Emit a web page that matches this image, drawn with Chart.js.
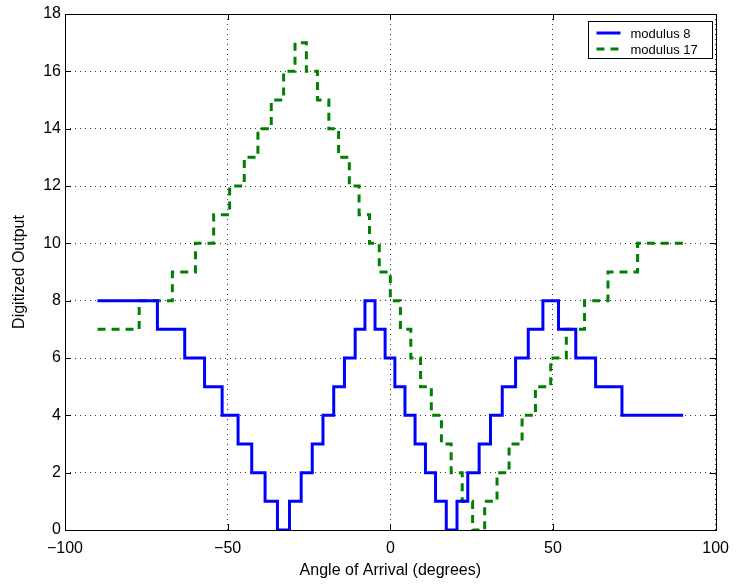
<!DOCTYPE html>
<html><head><meta charset="utf-8">
<script src="https://cdn.jsdelivr.net/npm/chart.js@4/dist/chart.umd.min.js"></script>
<style>html,body{margin:0;padding:0;background:#fff}#wrap{width:738px;height:586px}</style>
</head><body><div id="wrap"><canvas id="c" width="738" height="586"></canvas></div>
<script>
const mod8X = [-90,-71.6,-63.2,-57.1,-51.7,-46.8,-42.6,-38.5,-34.7,-31.0,-27.4,-24.0,-20.7,-17.4,-14.1,-10.8,-7.8,-4.7,-1.6,1.4,4.5,7.6,10.8,13.9,17.2,20.5,23.8,27.3,30.8,34.4,38.5,42.4,46.9,51.7,57.0,63.1,71.2,90];
const mod8Y = [8,7,6,5,4,3,2,1,0,1,2,3,4,5,6,7,8,7,6,5,4,3,2,1,0,1,2,3,4,5,6,7,8,7,6,5,4,4];
const mod17X = [-90,-77.2,-67.0,-59.9,-54.3,-49.4,-44.9,-40.7,-36.6,-32.8,-29.3,-25.8,-22.4,-18.9,-15.9,-12.6,-9.6,-6.4,-3.4,0.0,3.1,6.3,9.3,12.6,15.7,18.7,22.1,25.3,29.0,32.8,36.5,40.5,44.6,49.3,54.1,59.7,66.9,76.0,90];
const mod17Y = [7,8,9,10,11,12,13,14,15,16,17,16,15,14,13,12,11,10,9,8,7,6,5,4,3,2,1,0,1,2,3,4,5,6,7,8,9,10,10];
const seriesLabels = ["modulus 8","modulus 17"];
const xLabel = "Angle of Arrival (degrees)";
const yLabel = "Digitized Output";

const FONT = "'Liberation Sans', Arial, sans-serif";
const pts = (xs, ys) => xs.map((x, i) => ({x, y: ys[i]}));

const frame = {
  id: 'frame',
  afterDatasetsDraw(chart) {
    const {ctx, chartArea: a, scales} = chart;
    ctx.save();
    ctx.strokeStyle = '#000'; ctx.lineWidth = 1; ctx.setLineDash([]);
    ctx.strokeRect(Math.round(a.left) + 0.5, Math.round(a.top) + 0.5, Math.round(a.right - a.left), Math.round(a.bottom - a.top));
    const L = 6;
    ctx.beginPath();
    scales.x.ticks.forEach(t => {
      const p = Math.round(scales.x.getPixelForValue(t.value)) + 0.5;
      ctx.moveTo(p, a.bottom); ctx.lineTo(p, a.bottom - L);
      ctx.moveTo(p, a.top); ctx.lineTo(p, a.top + L);
    });
    scales.y.ticks.forEach(t => {
      const p = Math.round(scales.y.getPixelForValue(t.value)) + 0.5;
      ctx.moveTo(a.left, p); ctx.lineTo(a.left + L, p);
      ctx.moveTo(a.right, p); ctx.lineTo(a.right - L, p);
    });
    ctx.stroke();
    // legend
    const bx = 588.5, by = 21.5, bw = 124, bh = 37;
    ctx.fillStyle = '#fff'; ctx.fillRect(bx, by, bw, bh);
    ctx.strokeRect(bx, by, bw, bh);
    ctx.font = '13px ' + FONT; ctx.textBaseline = 'middle'; ctx.fillStyle = '#000';
    chart.data.datasets.forEach((ds, i) => {
      const yy = by + 11.5 + i * 16;
      ctx.strokeStyle = ds.borderColor; ctx.lineWidth = ds.borderWidth;
      ctx.setLineDash(ds.borderDash || []);
      ctx.beginPath(); ctx.moveTo(bx + 8, yy); ctx.lineTo(bx + 32, yy); ctx.stroke();
      ctx.setLineDash([]);
      ctx.fillText(ds.label, bx + 42, yy + 1);
    });
    ctx.restore();
  }
};

new Chart(document.getElementById('c'), {
  type: 'line',
  data: { datasets: [
    { label: seriesLabels[0], data: pts(mod8X, mod8Y), stepped: 'before', borderColor: '#0000ff', borderWidth: 3, pointRadius: 0, fill: false },
    { label: seriesLabels[1], data: pts(mod17X, mod17Y), stepped: 'before', borderColor: '#008000', borderWidth: 3, borderDash: [8, 6], pointRadius: 0, fill: false }
  ]},
  options: {
    responsive: false, animation: false,
    layout: { padding: { top: 14, right: 21, left: 0, bottom: 0 } },
    plugins: { legend: { display: false }, tooltip: { enabled: false } },
    scales: {
      x: {
        type: 'linear', min: -100, max: 100,
        ticks: { stepSize: 50, color: '#000', font: { family: FONT, size: 16 }, padding: 9,
                 callback: v => String(v).replace('-', '\u2212') },
        grid: { color: '#333', lineWidth: 1, drawTicks: false },
        border: { display: false, dash: [1, 4] },
        title: { display: true, text: xLabel, color: '#000', font: { family: FONT, size: 16 }, padding: { top: 0, bottom: 6 } },
        afterFit: s => { s.height = 56; }
      },
      y: {
        min: 0, max: 18,
        ticks: { stepSize: 2, color: '#000', font: { family: FONT, size: 16 }, padding: 4 },
        grid: { color: '#333', lineWidth: 1, drawTicks: false },
        border: { display: false, dash: [1, 4] },
        title: { display: true, text: yLabel, color: '#000', font: { family: FONT, size: 16 }, padding: { top: 10, bottom: 0 } },
        afterFit: s => { s.width = 65; }
      }
    }
  },
  plugins: [frame]
});
</script></body></html>
